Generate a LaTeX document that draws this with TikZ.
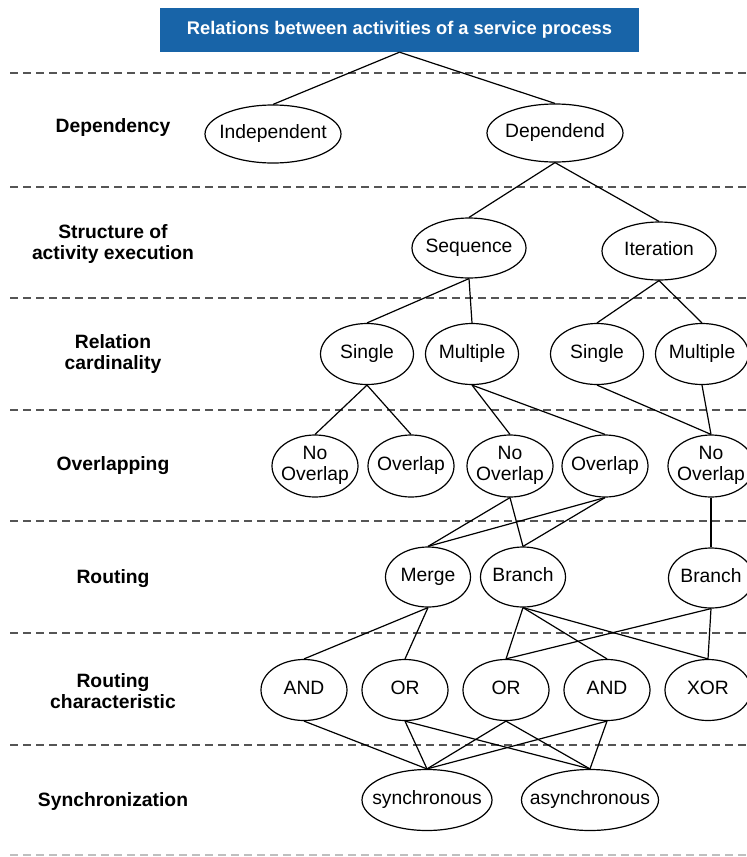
\documentclass[tikz,border=0pt]{standalone}
\usepackage{fontspec}
\setmainfont{Liberation Sans}
\usetikzlibrary{shapes.geometric}
\definecolor{titleblue}{RGB}{24,100,168}
\definecolor{dashgray}{RGB}{85,85,85}
\newcommand{\mbx}[1]{\makebox[0pt]{\raisebox{-1.8pt}{\begin{tabular}{@{}c@{}}#1\end{tabular}}}}
\tikzset{
  el/.style={ellipse, draw=black, line width=1.2pt, inner sep=0pt,
    font=\fontsize{19.3}{21}\selectfont, minimum width=86pt, minimum height=61pt},
  rowlabel/.style={font=\fontsize{19.3}{21}\selectfont\bfseries, align=center},
  sep/.style={dashgray, line width=1.8pt, dash pattern=on 8pt off 5pt},
  link/.style={line width=1.2pt, black}
}
\begin{document}
\begin{tikzpicture}[x=1pt,y=-1pt]
\useasboundingbox (0,0) rectangle (747,857);
% title
\node[fill=titleblue, minimum width=479pt, minimum height=44pt, inner sep=0pt,
  text=white, font=\fontsize{18.3}{20}\selectfont\bfseries] (title) at (399.5,30) {Relations between activities of a service process};
% separators
\foreach \y in {73,187,298,410,521,633,745} \draw[sep] (10,\y) -- (747,\y);
\draw[sep, draw=black!25] (10,855) -- (747,855);
% row labels
\node[rowlabel] (l1) at (113,128) {Dependency};
\node[rowlabel] (l2) at (113,244) {Structure of\\activity execution};
\node[rowlabel] (l3) at (113,354) {Relation\\cardinality};
\node[rowlabel] (l4) at (113,466) {Overlapping};
\node[rowlabel] (l5) at (113,579) {Routing};
\node[rowlabel] (l6) at (113,691) {Routing\\characteristic};
\node[rowlabel] (l7) at (113,801) {Synchronization};
% row 1
\node[el, minimum width=136pt, minimum height=58pt] (indep) at (273,134) {\mbx{Independent}};
\node[el, minimum width=136pt, minimum height=58pt] (dep) at (555,133) {\mbx{Dependend}};
% row 2
\node[el, minimum width=114pt, minimum height=60pt] (seq) at (469,248) {\mbx{Sequence}};
\node[el, minimum width=114pt, minimum height=58pt] (iter) at (659,251) {\mbx{Iteration}};
% row 3
\node[el, minimum width=93pt, minimum height=61pt] (sg1) at (367,354) {\mbx{Single}};
\node[el, minimum width=93pt, minimum height=61pt] (mu1) at (472,354) {\mbx{Multiple}};
\node[el, minimum width=93pt, minimum height=61pt] (sg2) at (597,354) {\mbx{Single}};
\node[el, minimum width=93pt, minimum height=61pt] (mu2) at (702,354) {\mbx{Multiple}};
% row 4
\node[el, minimum height=62pt] (no1) at (315,466) {\mbx{No\\Overlap}};
\node[el, minimum height=62pt] (ov1) at (411,466) {\mbx{Overlap}};
\node[el, minimum height=62pt] (no2) at (510,466) {\mbx{No\\Overlap}};
\node[el, minimum height=62pt] (ov2) at (605,466) {\mbx{Overlap}};
\node[el, minimum height=62pt] (no3) at (711,466) {\mbx{No\\Overlap}};
% row 5
\node[el, minimum width=85pt, minimum height=60pt] (merge) at (428,577) {\mbx{Merge}};
\node[el, minimum width=85pt, minimum height=60pt] (br1) at (523,577) {\mbx{Branch}};
\node[el, minimum width=85pt, minimum height=60pt] (br2) at (711,578) {\mbx{Branch}};
% row 6
\node[el] (and1) at (304,690) {\mbx{AND}};
\node[el] (or1) at (405,690) {\mbx{OR}};
\node[el] (or2) at (506,690) {\mbx{OR}};
\node[el] (and2) at (607,690) {\mbx{AND}};
\node[el] (xor) at (708,690) {\mbx{XOR}};
% row 7
\node[el, minimum width=130pt, minimum height=61pt] (sync) at (427,800) {\mbx{synchronous}};
\node[el, minimum width=137pt, minimum height=61pt] (async) at (590,800) {\mbx{asynchronous}};
% connectors
\draw[link] (title.south) -- (indep.north);
\draw[link] (title.south) -- (dep.north);
\draw[link] (dep.south) -- (seq.north);
\draw[link] (dep.south) -- (iter.north);
\draw[link] (seq.south) -- (sg1.north);
\draw[link] (seq.south) -- (mu1.north);
\draw[link] (iter.south) -- (sg2.north);
\draw[link] (iter.south) -- (mu2.north);
\draw[link] (sg1.south) -- (no1.north);
\draw[link] (sg1.south) -- (ov1.north);
\draw[link] (mu1.south) -- (no2.north);
\draw[link] (mu1.south) -- (ov2.north);
\draw[link] (sg2.south) -- (no3.north);
\draw[link] (mu2.south) -- (no3.north);
\draw[link] (no2.south) -- (merge.north);
\draw[link] (no2.south) -- (br1.north);
\draw[link] (ov2.south) -- (merge.north);
\draw[link] (ov2.south) -- (br1.north);
\draw[link] (no3.south) -- (br2.north);
\draw[link] (merge.south) -- (and1.north);
\draw[link] (merge.south) -- (or1.north);
\draw[link] (br1.south) -- (or2.north);
\draw[link] (br1.south) -- (and2.north);
\draw[link] (br1.south) -- (xor.north);
\draw[link] (br2.south) -- (or2.north);
\draw[link] (br2.south) -- (xor.north);
\draw[link] (and1.south) -- (sync.north);
\draw[link] (or1.south) -- (sync.north);
\draw[link] (or1.south) -- (async.north);
\draw[link] (or2.south) -- (sync.north);
\draw[link] (or2.south) -- (async.north);
\draw[link] (and2.south) -- (sync.north);
\draw[link] (and2.south) -- (async.north);
\end{tikzpicture}
\end{document}
